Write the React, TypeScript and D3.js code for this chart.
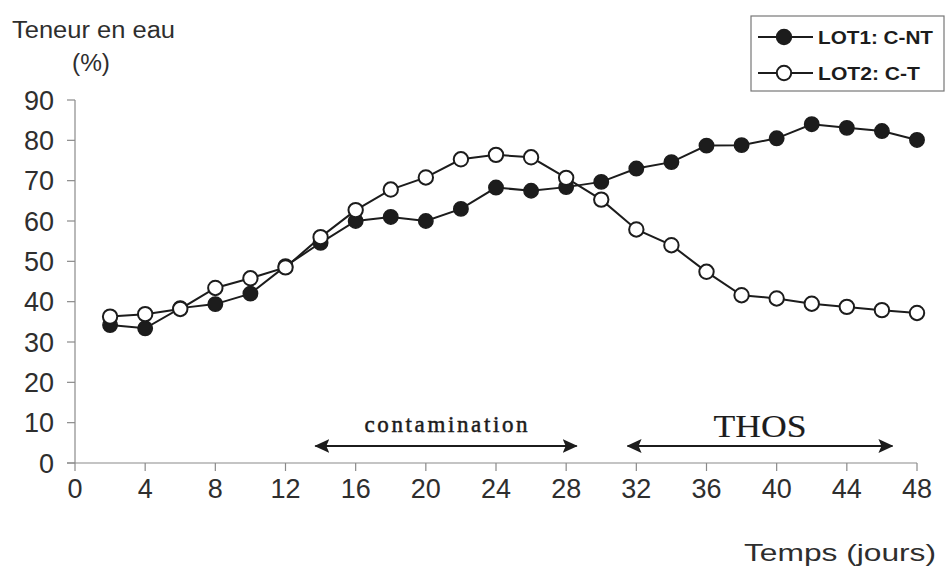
import React from "react";
import * as d3 from "d3";

const days = [2, 4, 6, 8, 10, 12, 14, 16, 18, 20, 22, 24, 26, 28, 30, 32, 34, 36, 38, 40, 42, 44, 46, 48];
const lot1 = [34.2, 33.4, 38.4, 39.4, 42, 48.8, 54.6, 60, 61, 60, 63, 68.3, 67.5, 68.4, 69.7, 73, 74.6, 78.7, 78.8, 80.5, 84, 83.1, 82.3, 80.1];
const lot2 = [36.3, 36.9, 38.2, 43.4, 45.8, 48.5, 56, 62.7, 67.8, 70.8, 75.3, 76.4, 75.8, 70.7, 65.3, 57.9, 54, 47.4, 41.6, 40.8, 39.5, 38.7, 37.9, 37.2];
const xTicks = [0, 4, 8, 12, 16, 20, 24, 28, 32, 36, 40, 44, 48];
const yTicks = [0, 10, 20, 30, 40, 50, 60, 70, 80, 90];
const seriesNames = ["LOT1: C-NT", "LOT2: C-T"];
const periods = [
  { label: "contamination", from: 13.7, to: 28.6 },
  { label: "THOS", from: 31.5, to: 46.6 },
];

export default function App() {
  const x = d3.scaleLinear().domain([0, 48]).range([75, 917]);
  const y = d3.scaleLinear().domain([0, 90]).range([463, 100]);
  const line = d3
    .line<number>()
    .x((_, i) => x(days[i]))
    .y((d) => y(d));
  const sans = "Arial, 'Liberation Sans', sans-serif";
  const serif = "'Times New Roman', 'Liberation Serif', serif";
  const ink = "#1c1c1c";
  const txt = "#2e2e2e";
  const axisCol = "#8a8a8a";
  const r = 7.2;
  const arrowY = 446;
  const periodStyle = [
    { size: 23, len: 163, y: 432, sw: 0.5, adj: "spacing" },
    { size: 32, len: 93, y: 437, sw: 0.15, adj: "spacingAndGlyphs" },
  ];
  const legendLen = [115, 102];

  return (
    <svg width={945} height={572} style={{ position: "absolute", left: 0, top: 0, background: "#fff" }}>
      <defs>
        <marker id="ah" viewBox="0 0 15 14" refX="14" refY="7" markerWidth="15" markerHeight="14" orient="auto-start-reverse" markerUnits="userSpaceOnUse">
          <path d="M0,0 L15,7 L0,14 L3,7 Z" fill={ink} />
        </marker>
      </defs>
      {/* axis titles */}
      <text x={12} y={38} fontFamily={sans} fontSize={23} fill={txt} textLength={163} lengthAdjust="spacingAndGlyphs">Teneur en eau</text>
      <text x={72} y={71} fontFamily={sans} fontSize={23} fill={txt} textLength={38} lengthAdjust="spacingAndGlyphs">(%)</text>
      <text x={744} y={561} fontFamily={sans} fontSize={24} fill={txt} textLength={192} lengthAdjust="spacingAndGlyphs">Temps (jours)</text>

      {/* y axis */}
      <line x1={x(0)} x2={x(0)} y1={y(90)} y2={y(0)} stroke={axisCol} strokeWidth={1.2} />
      {yTicks.map((t) => (
        <g key={t}>
          <line x1={x(0) - 8} x2={x(0)} y1={y(t)} y2={y(t)} stroke={axisCol} strokeWidth={1.2} />
          <text x={54} y={y(t) + 9.6} fontFamily={sans} fontSize={27} fill={txt} textAnchor="end">{t}</text>
        </g>
      ))}
      {/* x axis */}
      <line x1={x(0) - 8} x2={x(48)} y1={y(0)} y2={y(0)} stroke={axisCol} strokeWidth={1.2} />
      {xTicks.map((t) => (
        <g key={t}>
          <line x1={x(t)} x2={x(t)} y1={y(0)} y2={y(0) + 8} stroke={axisCol} strokeWidth={1.2} />
          <text x={x(t)} y={498} fontFamily={sans} fontSize={27} fill={txt} textAnchor="middle">{t}</text>
        </g>
      ))}

      {/* period arrows */}
      {periods.map((p, i) => (
        <g key={p.label}>
          <line x1={x(p.from)} x2={x(p.to)} y1={arrowY} y2={arrowY} stroke={ink} strokeWidth={2} markerStart="url(#ah)" markerEnd="url(#ah)" />
          <text
            x={(x(p.from) + x(p.to)) / 2 - periodStyle[i].len / 2}
            y={periodStyle[i].y}
            fontFamily={serif}
            fontSize={periodStyle[i].size}
            fill={ink}
            stroke={ink}
            strokeWidth={periodStyle[i].sw}
            textLength={periodStyle[i].len}
            lengthAdjust={periodStyle[i].adj}
          >
            {p.label}
          </text>
        </g>
      ))}

      {/* series */}
      <path d={line(lot1) || ""} fill="none" stroke={ink} strokeWidth={2} />
      <path d={line(lot2) || ""} fill="none" stroke={ink} strokeWidth={2} />
      {lot1.map((v, i) => (
        <circle key={"a" + i} cx={x(days[i])} cy={y(v)} r={r} fill={ink} stroke={ink} strokeWidth={1.5} />
      ))}
      {lot2.map((v, i) => (
        <circle key={"b" + i} cx={x(days[i])} cy={y(v)} r={r} fill="#fff" stroke={ink} strokeWidth={2} />
      ))}

      {/* legend */}
      <rect x={751} y={16} width={193} height={75} fill="#fff" stroke="#777" strokeWidth={1.2} />
      {seriesNames.map((n, i) => (
        <g key={n}>
          <line x1={758} x2={813} y1={37 + i * 36} y2={37 + i * 36} stroke={ink} strokeWidth={2} />
          <circle cx={784} cy={37 + i * 36} r={r} fill={i === 0 ? ink : "#fff"} stroke={ink} strokeWidth={2} />
          <text x={818} y={44 + i * 36} fontFamily={sans} fontSize={19} fontWeight="bold" fill={ink} textLength={legendLen[i]} lengthAdjust="spacingAndGlyphs">{n}</text>
        </g>
      ))}
    </svg>
  );
}
